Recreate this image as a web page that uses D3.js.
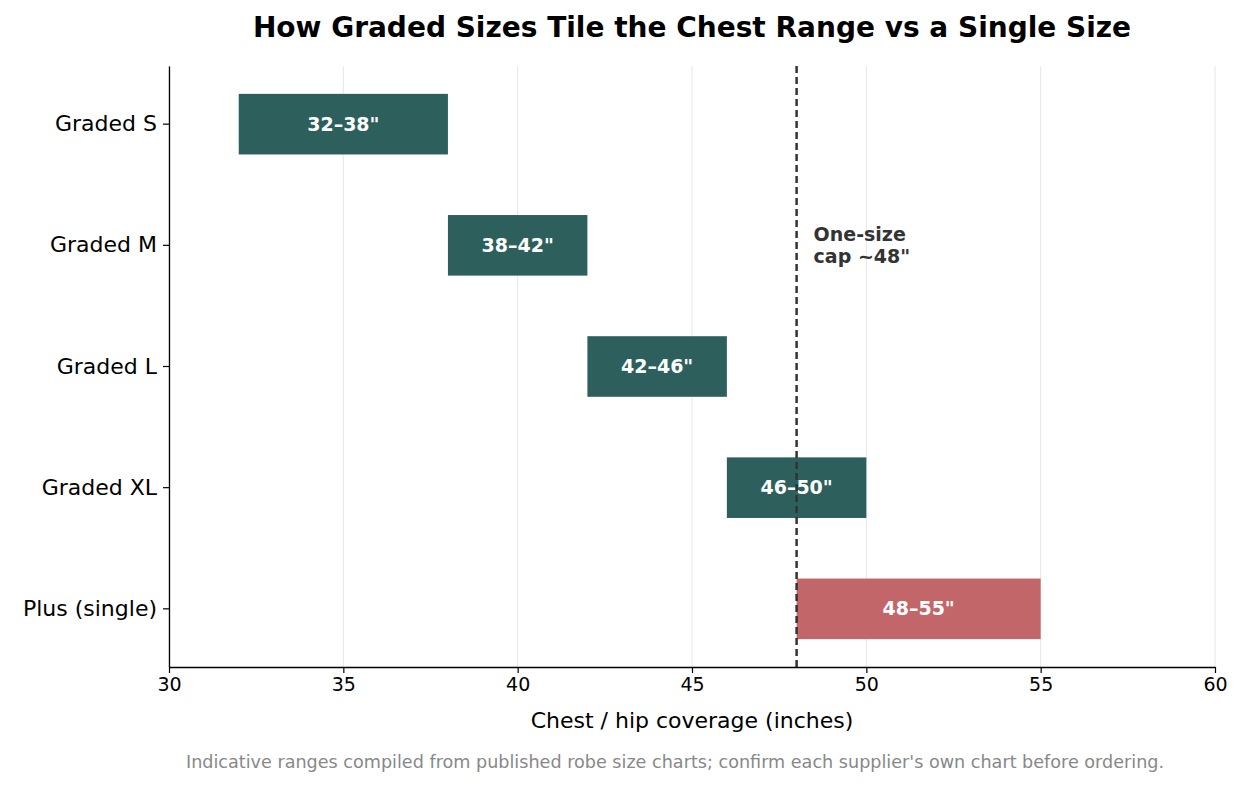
<!DOCTYPE html>
<html><head><meta charset="utf-8">
<script src="https://cdn.jsdelivr.net/npm/d3@7"></script>
<style>body{margin:0;background:#fff;font-family:"DejaVu Sans",sans-serif;}</style>
</head><body><div id="chart"></div>
<script>
const width = 1243, height = 787;
const categories = ["Graded S", "Graded M", "Graded L", "Graded XL", "Plus (single)"];
const starts = [32, 38, 42, 46, 48];
const ends = [38, 42, 46, 50, 55];
const labels = ['32–38"', '38–42"', '42–46"', '46–50"', '48–55"'];
const colors = ["#2d5f5c", "#2d5f5c", "#2d5f5c", "#2d5f5c", "#c2666a"];
const xTicks = [30, 35, 40, 45, 50, 55, 60];
const capValue = 48;

const margin = {top: 66, right: 28, bottom: 120, left: 169};

const svg = d3.select("#chart").append("svg")
  .attr("width", width).attr("height", height);

const x = d3.scaleLinear().domain([30, 60]).range([margin.left, width - margin.right]);
const y = d3.scaleBand().domain(categories).range([margin.top, height - margin.bottom])
  .paddingInner(0.5).paddingOuter(0.23);

// Grid
svg.append("g").selectAll("line").data(xTicks).enter().append("line")
  .attr("x1", d => x(d)).attr("x2", d => x(d))
  .attr("y1", margin.top).attr("y2", height - margin.bottom)
  .attr("stroke", "#e6e6e6").attr("stroke-width", 1);

// Bars
const bars = svg.append("g").selectAll("g").data(categories).enter().append("g");
bars.append("rect")
  .attr("x", (d, i) => x(starts[i]))
  .attr("width", (d, i) => x(ends[i]) - x(starts[i]))
  .attr("y", d => y(d)).attr("height", y.bandwidth())
  .attr("fill", (d, i) => colors[i]);
bars.append("text")
  .attr("x", (d, i) => x((starts[i] + ends[i]) / 2))
  .attr("y", d => y(d) + y.bandwidth() / 2)
  .attr("dy", "0.35em").attr("text-anchor", "middle")
  .attr("fill", "#fff").style("font-size", "19px").style("font-weight", "bold")
  .text((d, i) => labels[i]);

// Cap line
svg.append("line")
  .attr("x1", x(capValue)).attr("x2", x(capValue))
  .attr("y1", margin.top).attr("y2", height - margin.bottom)
  .attr("stroke", "#333").attr("stroke-width", 2.5).attr("stroke-dasharray", "7,4");
const ann = svg.append("text").attr("x", x(capValue) + 17).attr("y", 241)
  .attr("fill", "#333").style("font-size", "19px").style("font-weight", "bold");
ann.append("tspan").text("One-size");
ann.append("tspan").attr("x", x(capValue) + 17).attr("dy", "1.15em").text('cap ~48"');

// Axes
const xAxis = svg.append("g").attr("transform", `translate(0,${height - margin.bottom})`)
  .call(d3.axisBottom(x).tickValues(xTicks).tickSize(6).tickSizeOuter(0).tickPadding(5));
const yAxis = svg.append("g").attr("transform", `translate(${margin.left},0)`)
  .call(d3.axisLeft(y).tickSize(6).tickSizeOuter(0).tickPadding(6));
[xAxis, yAxis].forEach(a => {
  a.select(".domain").attr("stroke", "#000").attr("stroke-width", 1.3);
  a.selectAll(".tick line").attr("stroke", "#000").attr("stroke-width", 1.2);
  a.selectAll("text").attr("fill", "#000").style("font-family", "DejaVu Sans");
});
xAxis.selectAll("text").style("font-size", "19px");
yAxis.selectAll("text").style("font-size", "22px");

// Titles
svg.append("text").attr("x", 692).attr("y", 37).attr("text-anchor", "middle")
  .style("font-size", "28px").style("font-weight", "bold").text("How Graded Sizes Tile the Chest Range vs a Single Size");
svg.append("text").attr("x", x(45)).attr("y", 728).attr("text-anchor", "middle")
  .style("font-size", "22px").text("Chest / hip coverage (inches)");
svg.append("text").attr("x", 675).attr("y", 768).attr("text-anchor", "middle")
  .attr("fill", "#888").style("font-size", "17.6px")
  .text("Indicative ranges compiled from published robe size charts; confirm each supplier's own chart before ordering.");
</script></body></html>
